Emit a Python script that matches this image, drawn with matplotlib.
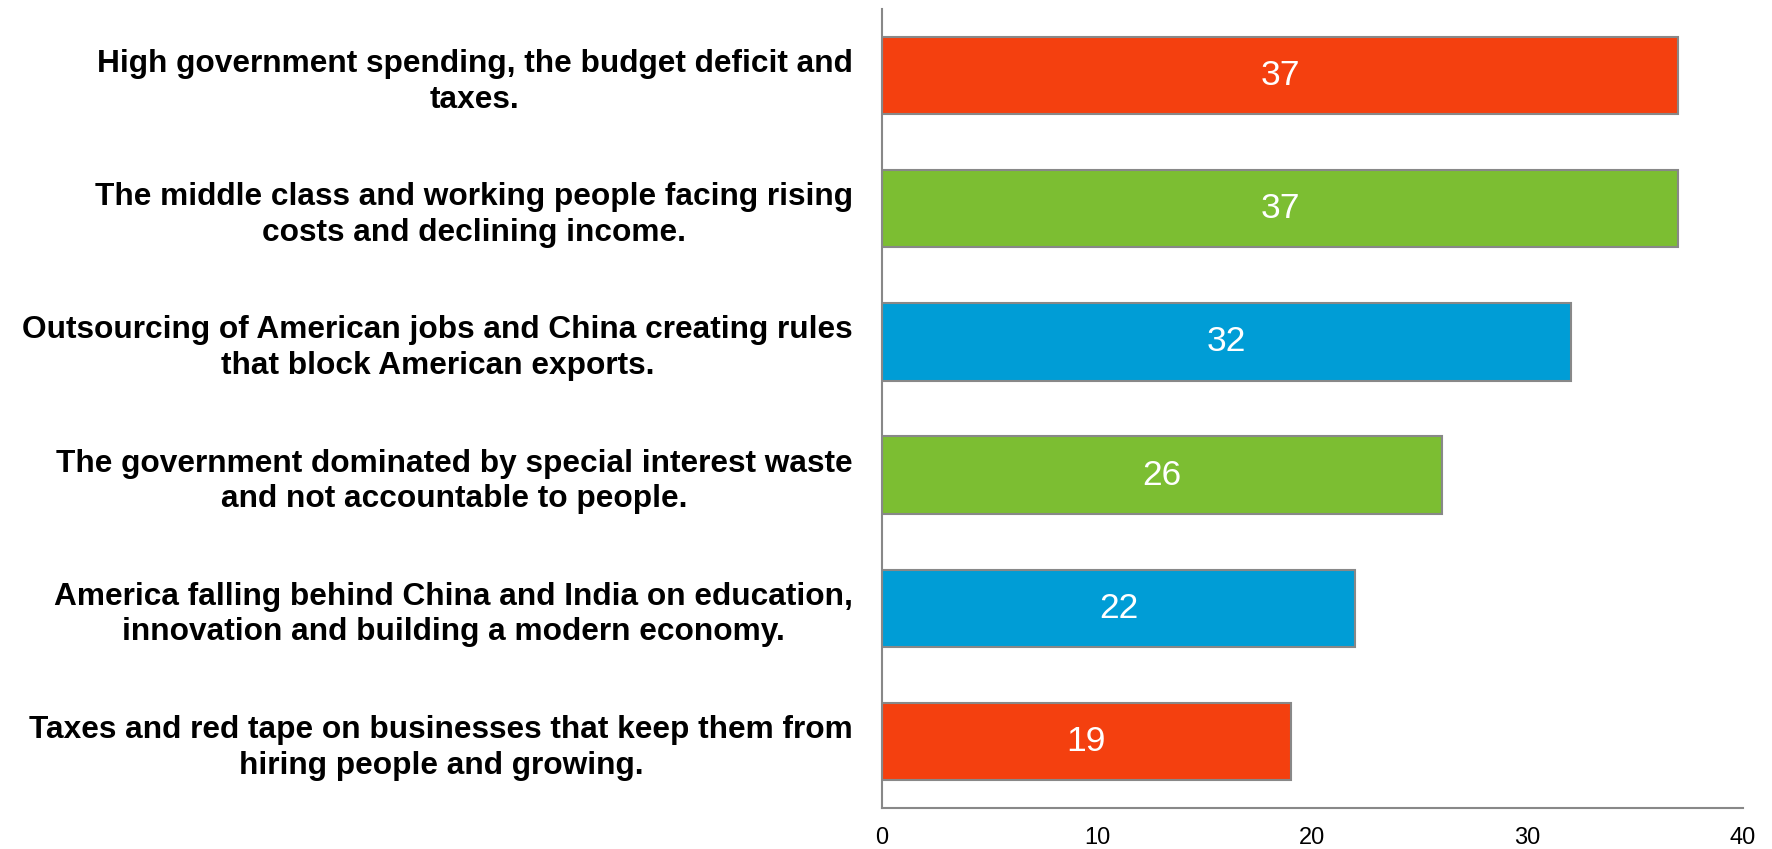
import matplotlib
matplotlib.use("Agg")
import matplotlib.pyplot as plt
import numpy as np

plt.rcParams['font.family'] = ['Liberation Sans', 'DejaVu Sans']

# Issues and share of respondents (top to bottom)
issues = [
    "High government spending, the budget deficit and\ntaxes.",
    "The middle class and working people facing rising\ncosts and declining income.",
    "Outsourcing of American jobs and China creating rules\nthat block American exports.",
    "The government dominated by special interest waste\nand not accountable to people.",
    "America falling behind China and India on education,\ninnovation and building a modern economy.",
    "Taxes and red tape on businesses that keep them from\nhiring people and growing.",
]
values = [37, 37, 32, 26, 22, 19]
bar_colors = ["#F4400F", "#7CBE32", "#009DD6", "#7CBE32", "#009DD6", "#F4400F"]
xticks = [0, 10, 20, 30, 40]

fig = plt.figure(figsize=(17.72, 8.49), dpi=100)
ax = fig.add_axes([0.4977, 0.0483, 0.4859, 0.9411])

y = np.arange(len(values))
bars = ax.barh(y, values, height=0.58, color=bar_colors,
               edgecolor="#888888", linewidth=1.5)

# value labels in the middle of each bar
for yi, v in zip(y, values):
    ax.text(v / 2, yi, str(v), ha="center", va="center",
            color="white", fontsize=25.5)

ax.set_ylim(len(values) - 0.5, -0.5)
ax.set_xlim(0, 40)
ax.set_xticks(xticks)
ax.set_xticklabels([str(t) for t in xticks], fontsize=17)
ax.set_yticks(y)
ax.set_yticklabels(issues, fontsize=22.8, fontweight="bold",
                   multialignment="center", linespacing=1.25)

ax.tick_params(axis="both", length=0)
ax.tick_params(axis="x", pad=14)
ax.tick_params(axis="y", pad=21)

for side in ["top", "right"]:
    ax.spines[side].set_visible(False)
for side in ["left", "bottom"]:
    ax.spines[side].set_color("#888888")
    ax.spines[side].set_linewidth(1.5)

fig.savefig("out.png", dpi=100)
